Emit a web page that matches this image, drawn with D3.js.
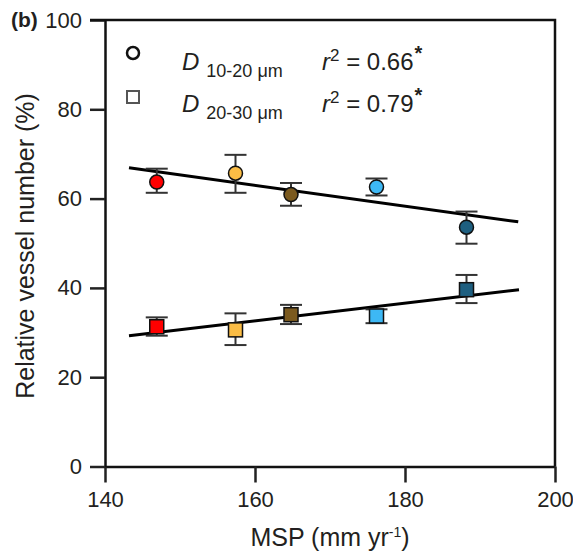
<!DOCTYPE html>
<html>
<head>
<meta charset="utf-8">
<script src="https://cdn.jsdelivr.net/npm/d3@7/dist/d3.min.js"></script>
<style>
  body { margin: 0; background: #fff; }
  svg { display: block; font-family: "Liberation Sans", Arial, sans-serif; }
</style>
</head>
<body>
<svg id="chart" width="573" height="555"></svg>
<script>
// MSP (mm yr-1) of each site
const msp = [146.9, 157.4, 164.8, 176.2, 188.2];
const siteColors = ['#ff0000', '#fbbd45', '#7b5a1f', '#3db8f5', '#1e5f80'];

// D 10-20 um: mean, lower, upper
const small = [63.7, 65.7, 60.9, 62.6, 53.6];
const smallLo = [61.3, 61.3, 58.4, 60.7, 49.9];
const smallHi = [66.7, 69.8, 63.5, 64.5, 57.1];

// D 20-30 um
const large = [31.3, 30.6, 34.0, 33.7, 39.6];
const largeLo = [29.3, 27.2, 31.9, 32.1, 36.6];
const largeHi = [33.4, 34.3, 36.2, 35.2, 42.9];

// regression line end points [x, y]
const fitSmall = [[143.2, 66.9], [195.1, 54.8]];
const fitLarge = [[143.2, 29.3], [195.2, 39.6]];

const xTicks = [140, 160, 180, 200];
const yTicks = [0, 20, 40, 60, 80, 100];

const svg = d3.select('#chart');
const x = d3.scaleLinear().domain([140, 200]).range([105, 555]);
const y = d3.scaleLinear().domain([0, 100]).range([466.5, 20]);
const textFill = '#231f20';

// axes
const gx = svg.append('g').attr('transform', `translate(0,${y(0)})`)
  .call(d3.axisBottom(x).tickValues(xTicks).tickSize(16).tickPadding(9).tickSizeOuter(0));
const gy = svg.append('g').attr('transform', `translate(${x(140)},0)`)
  .call(d3.axisLeft(y).tickValues(yTicks).tickSize(15).tickPadding(8).tickSizeOuter(0));
[gx, gy].forEach(g => {
  g.select('.domain').attr('stroke', '#111').attr('stroke-width', 2.5);
  g.selectAll('.tick line').attr('stroke', '#222').attr('stroke-width', 2.5);
  g.selectAll('.tick text')
    .attr('font-family', '"Liberation Sans", Arial, sans-serif')
    .attr('font-size', 22).attr('fill', textFill);
});

// frame top and right
svg.append('path')
  .attr('d', `M${x(140) - 15},${y(100)}H${x(200)}V${y(0)}`)
  .attr('fill', 'none').attr('stroke', '#111').attr('stroke-width', 2.5);

// fit lines
const line = d3.line().x(d => x(d[0])).y(d => y(d[1]));
[fitSmall, fitLarge].forEach(f => {
  svg.append('path').datum(f).attr('d', line)
    .attr('fill', 'none').attr('stroke', '#000').attr('stroke-width', 3);
});

function errorBars(lo, hi) {
  const g = svg.append('g').attr('stroke', '#333').attr('stroke-width', 2);
  msp.forEach((m, i) => {
    const cx = x(m);
    g.append('line').attr('x1', cx).attr('x2', cx).attr('y1', y(lo[i])).attr('y2', y(hi[i]));
    [lo[i], hi[i]].forEach(v => {
      g.append('line').attr('x1', cx - 11).attr('x2', cx + 11).attr('y1', y(v)).attr('y2', y(v));
    });
  });
}
errorBars(smallLo, smallHi);
errorBars(largeLo, largeHi);

// points
svg.append('g').selectAll('circle').data(small).join('circle')
  .attr('cx', (d, i) => x(msp[i])).attr('cy', d => y(d)).attr('r', 7)
  .attr('fill', (d, i) => siteColors[i]).attr('stroke', '#111').attr('stroke-width', 1.5);
svg.append('g').selectAll('rect').data(large).join('rect')
  .attr('x', (d, i) => x(msp[i]) - 7).attr('y', d => y(d) - 7)
  .attr('width', 14).attr('height', 14)
  .attr('fill', (d, i) => siteColors[i]).attr('stroke', '#111').attr('stroke-width', 1.5);

// legend
svg.append('circle').attr('cx', 133).attr('cy', 53).attr('r', 6)
  .attr('fill', 'none').attr('stroke', '#111').attr('stroke-width', 2.5);
svg.append('rect').attr('x', 127).attr('y', 91).attr('width', 12).attr('height', 12)
  .attr('fill', 'none').attr('stroke', '#555').attr('stroke-width', 2);

function legendLabel(y0, sub, r2) {
  const t = svg.append('text').attr('x', 182).attr('y', y0).attr('fill', textFill).attr('font-size', 24);
  t.append('tspan').attr('font-style', 'italic').text('D');
  t.append('tspan').attr('dx', 7).attr('dy', 7).attr('font-size', 18).text(sub);
  const r = svg.append('text').attr('x', 322).attr('y', y0).attr('fill', textFill).attr('font-size', 24);
  r.append('tspan').attr('font-style', 'italic').text('r');
  r.append('tspan').attr('dy', -9).attr('font-size', 17).text('2');
  r.append('tspan').attr('dy', 9).text(' = ' + r2);
  r.append('tspan').attr('dx', 1).attr('dy', -10).attr('font-size', 20).attr('font-weight', 'bold').text('*');
}
legendLabel(70, '10-20 μm', '0.66');
legendLabel(112, '20-30 μm', '0.79');

// panel letter
svg.append('text').attr('x', 11).attr('y', 27).attr('font-size', 21).attr('font-weight', 'bold')
  .attr('fill', textFill).text('(b)');

// axis titles
const xt = svg.append('text').attr('x', 330).attr('y', 546).attr('text-anchor', 'middle')
  .attr('font-size', 25).attr('fill', textFill);
xt.append('tspan').text('MSP (mm yr');
xt.append('tspan').attr('dy', -9).attr('font-size', 14).text('-1');
xt.append('tspan').attr('dy', 9).text(')');

svg.append('text').attr('transform', 'translate(34,246) rotate(-90)')
  .attr('text-anchor', 'middle').attr('font-size', 25).attr('fill', textFill)
  .text('Relative vessel number (%)');
</script>
</body>
</html>
